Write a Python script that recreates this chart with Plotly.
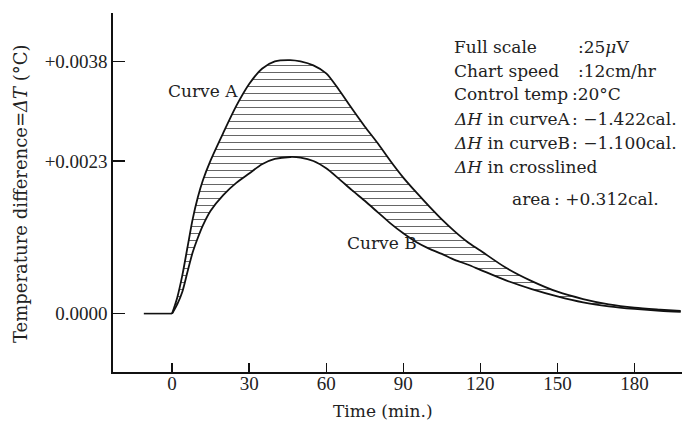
import plotly.graph_objects as go

# ---------------- data ----------------
time_min = [0, 2, 4, 6, 8, 10, 12, 15, 20, 25, 30, 35, 40, 46, 50, 55, 60, 65,
            70, 75, 80, 85, 90, 95, 100, 105, 110, 115, 120, 130, 140, 150,
            160, 170, 180, 190, 198]
curve_a = [0, 0.00024, 0.00058, 0.00100, 0.00142, 0.00175, 0.00201, 0.00231,
           0.00273, 0.00313, 0.00346, 0.00369, 0.00380, 0.00382, 0.00380,
           0.00374, 0.00362, 0.00337, 0.00309, 0.00282, 0.00257, 0.00230,
           0.00205, 0.00183, 0.00162, 0.00142, 0.00124, 0.00108, 0.00095,
           0.00069, 0.00049, 0.00033, 0.00022, 0.00014, 0.00009, 0.00006,
           0.00004]
curve_b = [0, 0.00014, 0.00033, 0.00063, 0.00092, 0.00114, 0.00133, 0.00155,
           0.00179, 0.00197, 0.00211, 0.00225, 0.00233, 0.00236, 0.00235,
           0.00230, 0.00219, 0.00203, 0.00186, 0.00170, 0.00153, 0.00136,
           0.00121, 0.00108, 0.00098, 0.00090, 0.00081, 0.00074, 0.00066,
           0.00050, 0.00037, 0.00026, 0.00017, 0.00011, 0.00007, 0.00004,
           0.000025]
base_t = [-11, 0]
base_v = [0, 0]

x_ticks = [0, 30, 60, 90, 120, 150, 180]
y_ticks = [0.0, 0.0023, 0.0038]
y_tick_labels = ["0.0000", "+0.0023", "+0.0038"]

info_labels = ["Full scale", "Chart speed", "Control temp",
               "<i>ΔH</i> in curveA", "<i>ΔH</i> in curveB",
               "<i>ΔH</i> in crosslined", "area"]
info_values = [":25<i>μ</i>V", ":12cm/hr", ":20°C", ": −1.422cal.",
               ": −1.100cal.", "", ": +0.312cal."]

# ---------------- layout helpers ----------------
W, H = 682, 422
L, R, T, B = 113, 0, 13, 50
PW, PH = W - L - R, H - T - B


def px_x(p):
    return (p - L) / PW


def px_y(p):
    return (H - B - p) / PH


SERIF = "DejaVu Serif"
TICKFONT = dict(family="Liberation Serif", size=19, color="#222")
TXTFONT = dict(family=SERIF, size=17, color="#222")

fig = go.Figure()

fig.add_trace(go.Scatter(
    x=time_min, y=curve_b, mode="lines",
    line=dict(color="#111", width=1.8, shape="spline", smoothing=0.8),
    showlegend=False, hoverinfo="skip"))
fig.add_trace(go.Scatter(
    x=time_min, y=curve_a, mode="lines",
    line=dict(color="#111", width=1.8, shape="spline", smoothing=0.8),
    fill="tonexty", fillcolor="rgba(255,255,255,0)",
    fillpattern=dict(shape="-", size=7, solidity=0.15, fgcolor="#666",
                     bgcolor="rgba(255,255,255,0)", fillmode="replace"),
    showlegend=False, hoverinfo="skip"))
fig.add_trace(go.Scatter(
    x=base_t, y=base_v, mode="lines",
    line=dict(color="#111", width=1.6),
    showlegend=False, hoverinfo="skip"))

ann = []
# curve labels
ann.append(dict(x=px_x(240), y=px_y(91), xref="paper", yref="paper",
                text="Curve A", showarrow=False, xanchor="right",
                yanchor="middle", font=TXTFONT))
ann.append(dict(x=px_x(345), y=px_y(243), xref="paper", yref="paper",
                text="Curve B", showarrow=False, xanchor="left",
                yanchor="middle", font=TXTFONT))

row_y = [46.7, 70.7, 94, 119.3, 142.7, 166.7, 199]
label_x = [452, 452, 452, 452, 452, 452, 510]
value_x = [576, 576, 570, 570, 570, 570, 552]
for lab, val, yy, lx, vx in zip(info_labels, info_values, row_y, label_x, value_x):
    ann.append(dict(x=px_x(lx), y=px_y(yy), xref="paper", yref="paper",
                    text=lab, showarrow=False, xanchor="left",
                    yanchor="middle", font=TXTFONT))
    if val:
        ann.append(dict(x=px_x(vx), y=px_y(yy), xref="paper", yref="paper",
                        text=val, showarrow=False, xanchor="left",
                        yanchor="middle", font=TXTFONT))

# axis titles
ann.append(dict(x=px_x(383), y=px_y(411), xref="paper", yref="paper",
                text="Time (min.)", showarrow=False, xanchor="center",
                yanchor="middle", font=TXTFONT))
ann.append(dict(x=px_x(21), y=px_y(194), xref="paper", yref="paper",
                text="Temperature difference=<i>ΔT</i> (°C)", showarrow=False,
                textangle=-90, xanchor="center", yanchor="middle",
                font=dict(family=SERIF, size=18, color="#222")))

fig.update_layout(
    width=W, height=H,
    margin=dict(l=L, r=R, t=T, b=B, pad=0),
    paper_bgcolor="white", plot_bgcolor="white",
    annotations=ann,
    xaxis=dict(range=[-23, 198.5], tickvals=x_ticks,
               ticktext=[str(v) for v in x_ticks],
               ticks="inside", ticklen=9, tickwidth=1.4, tickcolor="#111",
               ticklabelstandoff=-6,
               showline=True, linecolor="#111", linewidth=1.6,
               showgrid=False, zeroline=False, tickfont=TICKFONT),
    yaxis=dict(range=[-0.00088, 0.00453], tickvals=y_ticks,
               ticktext=y_tick_labels,
               ticks="inside", ticklen=12, tickwidth=1.4, tickcolor="#111",
               showline=True, linecolor="#111", linewidth=1.6,
               showgrid=False, zeroline=False, tickfont=TICKFONT),
)

fig.write_html("out.html",
               config={"displayModeBar": False, "staticPlot": True},
               post_script="document.body.style.margin='0';"
                           "document.body.style.overflow='hidden';")
